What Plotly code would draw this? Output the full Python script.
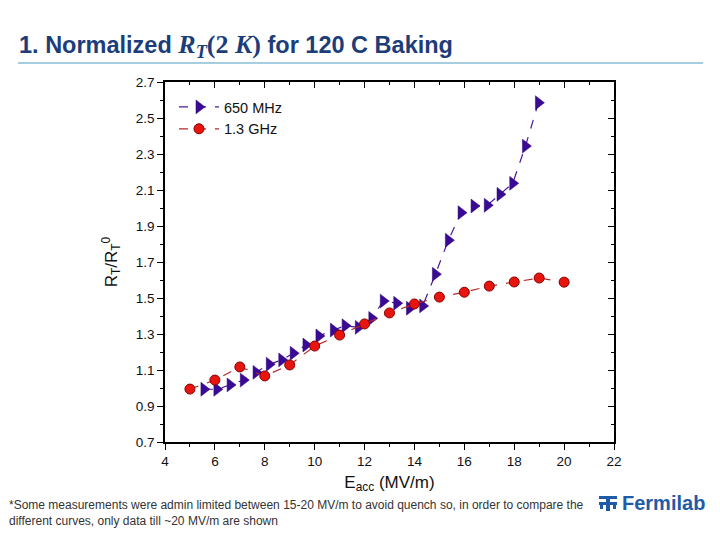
import plotly.graph_objects as go

# ---- data ----
x_650 = [5.56, 6.08, 6.61, 7.14, 7.65, 8.18, 8.68, 9.14, 9.65, 10.17, 10.75, 11.22, 11.75,
         12.29, 12.75, 13.29, 13.80, 14.33, 14.84, 15.36, 15.87, 16.39, 16.92, 17.43,
         17.94, 18.45, 18.97]
y_650 = [0.993, 0.993, 1.017, 1.044, 1.087, 1.132, 1.156, 1.193, 1.239, 1.289, 1.322, 1.346,
         1.337, 1.387, 1.483, 1.471, 1.443, 1.456, 1.632, 1.821, 1.974, 2.011, 2.015,
         2.076, 2.137, 2.344, 2.585]
x_13 = [5, 6, 7, 8, 9, 10, 11, 12, 13, 14, 15, 16, 17, 18, 19, 20]
y_13 = [0.994, 1.044, 1.117, 1.067, 1.128, 1.233, 1.294, 1.356, 1.417, 1.467, 1.505,
        1.532, 1.566, 1.589, 1.611, 1.588]
x_range = [4, 22]
y_range = [0.7, 2.7]

# page offset (body margin) and plot area in page pixels
OFF = 8
W, H = 720 - OFF, 540 - OFF
L, R, T, B = 165 - OFF, 614 - OFF, 82 - OFF, 442 - OFF
def px(x):
    return (x - OFF - L) / (R - L)
def py(y):
    return (B - (y - OFF)) / (B - T)

fig = go.Figure()
fig.add_trace(go.Scatter(
    x=x_650, y=y_650, name="650 MHz", mode="lines+markers",
    line=dict(color="#4a1a9a", width=1.2, dash="dash"),
    marker=dict(symbol="triangle-right", size=12, color="#3a0a96",
                line=dict(color="#2a0670", width=0.5))))
fig.add_trace(go.Scatter(
    x=x_13, y=y_13, name="1.3 GHz", mode="lines+markers",
    line=dict(color="#b22a2a", width=1.2, dash="dash"),
    marker=dict(symbol="circle", size=10, color="#e8140e",
                line=dict(color="#8a0000", width=1))))
# invisible trace for mirrored axes
fig.add_trace(go.Scatter(x=x_range, y=y_range, xaxis="x2", yaxis="y2", mode="markers",
                         marker=dict(opacity=0), showlegend=False, hoverinfo="skip"))

axis_font = dict(family="Arial, Liberation Sans, sans-serif", size=13.5, color="#111")
fig.update_layout(
    width=W, height=H,
    margin=dict(l=L, r=W - R, t=T, b=H - B),
    paper_bgcolor="white", plot_bgcolor="white",
    font=dict(family="Arial, Liberation Sans, sans-serif", color="#111"),
    showlegend=True,
    legend=dict(x=0.02, y=0.975, xanchor="left", yanchor="top",
                bgcolor="rgba(0,0,0,0)", font=dict(size=14.5, color="#111"),
                tracegroupgap=0, itemwidth=40),
    xaxis=dict(range=x_range, dtick=2, tick0=4, ticks="outside", ticklen=6, tickwidth=1.3,
               tickcolor="black", showline=True, linecolor="black", linewidth=1.5,
               showgrid=False, zeroline=False, tickfont=axis_font,
               minor=dict(dtick=1, ticks="outside", ticklen=3, tickcolor="black"),
               title=dict(text="E<sub>acc</sub> (MV/m)", font=dict(size=17, color="#111"),
                          standoff=8)),
    yaxis=dict(range=y_range, dtick=0.2, tick0=0.7, ticks="outside", ticklen=6, tickwidth=1.3,
               tickcolor="black", showline=True, linecolor="black", linewidth=1.5,
               showgrid=False, zeroline=False, tickfont=axis_font, tickformat=".1f",
               minor=dict(dtick=0.1, ticks="outside", ticklen=3, tickcolor="black"),
               title=dict(text="R<sub>T</sub>/R<sub>T</sub><sup>0</sup>",
                          font=dict(size=17, color="#111"), standoff=14)),
    xaxis2=dict(range=x_range, overlaying="x", side="top", anchor="y", dtick=2, tick0=4,
                ticks="inside", ticklen=6, tickwidth=1.3, tickcolor="black",
                showline=True, linecolor="black", linewidth=1.5, showgrid=False,
                zeroline=False, showticklabels=False,
                minor=dict(dtick=1, ticks="inside", ticklen=3, tickcolor="black")),
    yaxis2=dict(range=y_range, overlaying="y", side="right", anchor="x", dtick=0.2, tick0=0.7,
                ticks="inside", ticklen=6, tickwidth=1.3, tickcolor="black",
                showline=True, linecolor="black", linewidth=1.5, showgrid=False,
                zeroline=False, showticklabels=False,
                minor=dict(dtick=0.1, ticks="inside", ticklen=3, tickcolor="black")),
)

serif = "font-family:'Liberation Serif','DejaVu Serif',serif;font-size:26px"
title = ("<b>1. Normalized </b>"
         f"<span style=\"{serif}\"><b><i>R<sub>T</sub></i>(2 <i>K</i>)</b></span>"
         "<b> for 120 C Baking</b>")
annotations = [
    dict(text=title, xref="paper", yref="paper", x=px(17), y=py(46), xanchor="left",
         yanchor="middle", showarrow=False,
         font=dict(size=23.5, color="#1c3d7a", family="Arial, Liberation Sans, sans-serif")),
    dict(text="*Some measurements were admin limited between 15-20 MV/m to avoid quench so, in order to compare the"
              "<br>different curves, only data till ~20 MV/m are shown",
         xref="paper", yref="paper", x=px(7), y=py(513), xanchor="left", yanchor="middle",
         align="left", showarrow=False,
         font=dict(size=12, color="#333", family="Arial, Liberation Sans, sans-serif")),
    dict(text="<b>Fermilab</b>", xref="paper", yref="paper", x=px(620), y=py(503),
         xanchor="left", yanchor="middle", showarrow=False,
         font=dict(size=20, color="#1f5ba8", family="Arial, Liberation Sans, sans-serif")),
]
fig.update_layout(annotations=annotations)

shapes = [
    dict(type="line", xref="paper", yref="paper", x0=px(18), x1=px(703), y0=py(63), y1=py(63),
         line=dict(color="#a6cde0", width=2)),
]
# simple Fermilab icon
logo_col = "#1f5ba8"
for (x0, y0, x1, y1) in [(599, 496, 617, 499), (599, 502, 617, 505), (606, 496, 610, 511),
                         (600, 505, 603, 509), (613, 505, 616, 509)]:
    shapes.append(dict(type="rect", xref="paper", yref="paper", x0=px(x0), x1=px(x1),
                       y0=py(y1), y1=py(y0), fillcolor=logo_col, line=dict(width=0)))
fig.update_layout(shapes=shapes)

fig.write_html("out.html")
